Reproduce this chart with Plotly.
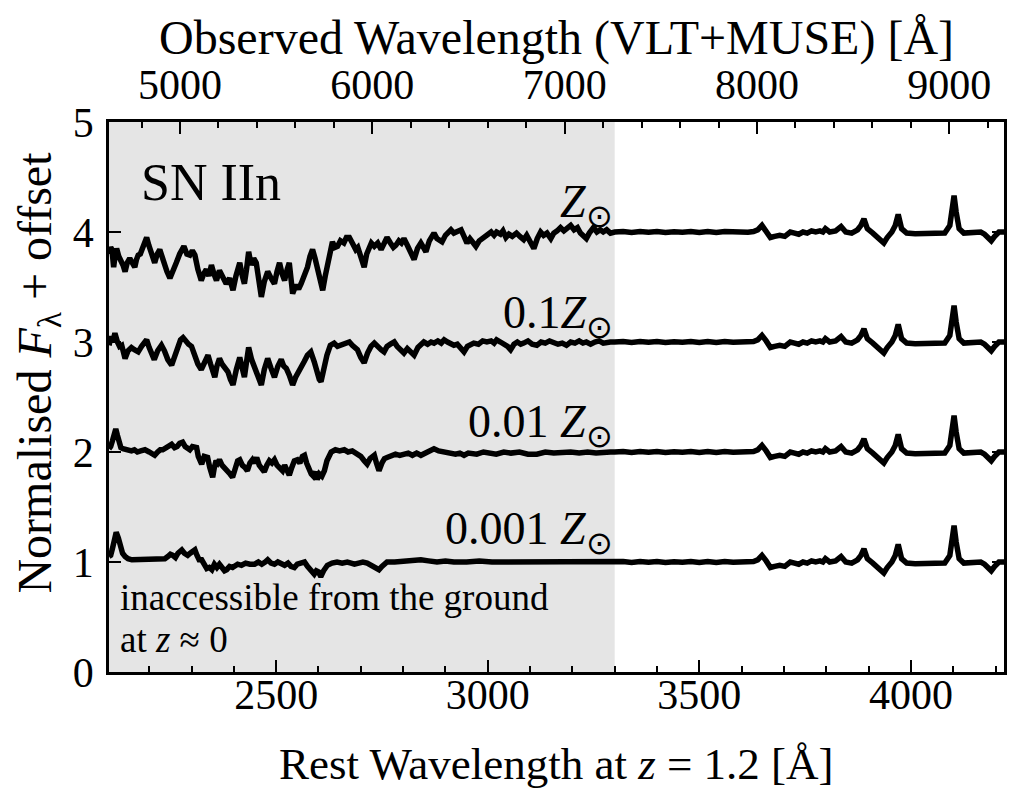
import numpy as np
import plotly.graph_objects as go

# ---------------- data ----------------
labels = ["<i>Z</i><sub>⊙</sub>", "0.1<i>Z</i><sub>⊙</sub>", "0.01 <i>Z</i><sub>⊙</sub>", "0.001 <i>Z</i><sub>⊙</sub>"]
offsets = [3, 2, 1, 0]

# blue part (rest < 3300 A): (rest wavelength, normalised flux) per metallicity
blue_z1 = [
    (2105, 0.80), (2109, 0.86), (2112, 0.84), (2116, 0.68), (2120, 0.80), (2123, 0.85), (2128, 0.78), (2133, 0.75),
    (2138, 0.70), (2143, 0.64), (2148, 0.72), (2154, 0.76), (2160, 0.72), (2166, 0.68), (2170, 0.75), (2174, 0.79),
    (2179, 0.80), (2184, 0.86), (2189, 0.90), (2194, 0.95), (2199, 0.88), (2204, 0.82), (2208, 0.76), (2213, 0.72),
    (2219, 0.80), (2225, 0.84), (2230, 0.78), (2236, 0.70), (2242, 0.64), (2249, 0.58), (2256, 0.66), (2264, 0.72),
    (2272, 0.80), (2282, 0.87), (2289, 0.80), (2296, 0.79), (2302, 0.83), (2308, 0.79), (2315, 0.66), (2323, 0.56),
    (2329, 0.62), (2335, 0.66), (2341, 0.60), (2347, 0.70), (2353, 0.62), (2359, 0.56), (2366, 0.65), (2374, 0.58),
    (2382, 0.53), (2390, 0.58), (2398, 0.47), (2405, 0.60), (2414, 0.72), (2420, 0.60), (2425, 0.53), (2430, 0.66),
    (2435, 0.82), (2441, 0.70), (2447, 0.76), (2453, 0.72), (2459, 0.55), (2465, 0.41), (2472, 0.55), (2480, 0.64),
    (2488, 0.58), (2496, 0.53), (2502, 0.64), (2508, 0.72), (2514, 0.62), (2520, 0.56), (2526, 0.66), (2531, 0.72),
    (2535, 0.58), (2539, 0.44), (2547, 0.52), (2553, 0.48), (2559, 0.53), (2566, 0.60), (2574, 0.68), (2580, 0.78),
    (2586, 0.84), (2592, 0.76), (2598, 0.66), (2604, 0.55), (2610, 0.47), (2616, 0.60), (2622, 0.72), (2628, 0.85),
    (2633, 0.91), (2639, 0.86), (2645, 0.87), (2652, 0.92), (2660, 0.90), (2666, 0.95), (2673, 0.95), (2680, 0.90),
    (2688, 0.84), (2693, 0.86), (2698, 0.80), (2703, 0.74), (2708, 0.68), (2714, 0.80), (2719, 0.86), (2725, 0.90),
    (2732, 0.87), (2740, 0.90), (2748, 0.84), (2755, 0.90), (2762, 0.95), (2770, 0.90), (2777, 0.86), (2783, 0.88),
    (2790, 0.92), (2796, 0.90), (2802, 0.94), (2810, 0.88), (2818, 0.82), (2826, 0.75), (2834, 0.85), (2842, 0.90),
    (2848, 0.86), (2854, 0.82), (2862, 0.92), (2868, 0.95), (2873, 0.99), (2880, 0.94), (2886, 0.92), (2892, 0.91),
    (2900, 0.97), (2906, 0.99), (2913, 1.02), (2920, 0.99), (2928, 1.01), (2937, 1.02), (2944, 0.96), (2951, 0.90),
    (2958, 0.94), (2965, 0.90), (2972, 0.87), (2980, 0.92), (2990, 0.95), (2998, 0.97), (3008, 1.00), (3015, 0.97),
    (3021, 1.00), (3030, 0.98), (3036, 1.01), (3043, 0.95), (3050, 0.98), (3058, 0.96), (3068, 0.99), (3076, 0.96),
    (3085, 0.93), (3092, 0.97), (3100, 0.92), (3109, 0.85), (3117, 0.94), (3125, 1.00), (3132, 0.97), (3140, 0.99),
    (3149, 0.94), (3156, 0.99), (3164, 1.01), (3172, 1.04), (3180, 1.01), (3188, 1.04), (3196, 1.06), (3204, 1.02),
    (3212, 1.04), (3219, 0.99), (3226, 0.97), (3233, 0.94), (3240, 0.99), (3250, 1.04), (3258, 1.00), (3266, 1.02),
    (3273, 1.00), (3281, 1.02), (3290, 0.99),
]

blue_z01 = [
    (2105, 0.97), (2110, 1.05), (2114, 1.00), (2119, 1.08), (2125, 1.00), (2130, 0.96), (2135, 0.97), (2139, 0.90),
    (2143, 0.85), (2150, 0.92), (2158, 0.95), (2165, 0.93), (2174, 0.91), (2182, 0.96), (2188, 1.00), (2194, 1.02),
    (2200, 0.95), (2206, 0.88), (2212, 0.84), (2220, 0.92), (2229, 0.97), (2236, 0.92), (2244, 0.84), (2253, 0.79),
    (2260, 0.88), (2268, 0.98), (2274, 1.02), (2280, 1.04), (2287, 1.00), (2293, 0.98), (2300, 0.96), (2307, 0.88),
    (2315, 0.80), (2323, 0.75), (2330, 0.82), (2339, 0.88), (2345, 0.80), (2350, 0.72), (2355, 0.68), (2360, 0.78),
    (2366, 0.85), (2372, 0.80), (2379, 0.76), (2386, 0.73), (2392, 0.66), (2398, 0.61), (2406, 0.75), (2414, 0.86),
    (2420, 0.76), (2425, 0.68), (2430, 0.82), (2435, 0.95), (2442, 0.84), (2449, 0.76), (2456, 0.70), (2460, 0.66),
    (2465, 0.61), (2472, 0.75), (2480, 0.85), (2488, 0.76), (2496, 0.68), (2504, 0.78), (2512, 0.84), (2518, 0.78),
    (2524, 0.76), (2531, 0.70), (2535, 0.64), (2539, 0.61), (2546, 0.68), (2552, 0.72), (2559, 0.75), (2566, 0.82),
    (2574, 0.88), (2582, 0.91), (2590, 0.82), (2597, 0.72), (2602, 0.66), (2606, 0.64), (2612, 0.75), (2620, 0.88),
    (2628, 0.97), (2637, 0.99), (2645, 0.96), (2653, 0.97), (2662, 0.99), (2673, 1.00), (2680, 0.97), (2686, 0.95),
    (2692, 0.93), (2700, 0.86), (2708, 0.81), (2716, 0.90), (2724, 0.96), (2732, 0.99), (2740, 0.95), (2748, 0.93),
    (2755, 0.91), (2762, 0.96), (2770, 0.98), (2779, 1.00), (2786, 0.96), (2794, 0.93), (2802, 0.90), (2810, 0.94),
    (2818, 0.91), (2826, 0.88), (2835, 0.95), (2842, 0.98), (2849, 1.00), (2858, 0.98), (2866, 1.00), (2873, 0.99),
    (2882, 1.01), (2890, 0.99), (2897, 1.02), (2905, 1.00), (2912, 0.99), (2920, 0.97), (2928, 0.98), (2936, 0.95),
    (2944, 0.91), (2952, 0.96), (2960, 0.98), (2967, 0.99), (2978, 0.98), (2988, 1.01), (2998, 1.00), (3008, 1.01),
    (3015, 0.99), (3021, 1.02), (3030, 1.00), (3040, 0.98), (3047, 0.96), (3054, 0.93), (3062, 0.98), (3070, 1.00),
    (3078, 0.98), (3085, 0.99), (3095, 1.01), (3105, 0.98), (3116, 0.97), (3126, 1.00), (3136, 0.99), (3146, 1.01),
    (3156, 1.00), (3166, 0.98), (3176, 0.99), (3186, 0.97), (3196, 1.00), (3206, 0.99), (3216, 1.01), (3225, 0.99),
    (3233, 1.00), (3243, 0.98), (3253, 1.00), (3263, 1.01), (3273, 0.99), (3282, 1.00), (3290, 1.00),
]

blue_z001 = [
    (2105, 1.03), (2109, 1.05), (2113, 1.10), (2117, 1.18), (2121, 1.21), (2125, 1.15), (2129, 1.08), (2133, 1.04),
    (2138, 1.03), (2144, 1.02), (2150, 1.02), (2158, 1.01), (2165, 1.02), (2172, 1.00), (2180, 1.01), (2190, 1.02),
    (2200, 1.00), (2207, 0.98), (2213, 0.97), (2220, 1.00), (2226, 1.02), (2232, 1.02), (2240, 1.04), (2246, 1.06),
    (2253, 1.07), (2260, 1.04), (2266, 1.05), (2272, 1.08), (2279, 1.09), (2285, 1.05), (2290, 1.03), (2296, 1.02),
    (2302, 1.05), (2307, 1.04), (2312, 1.04), (2316, 0.96), (2320, 0.92), (2324, 0.89), (2330, 0.96), (2334, 0.95),
    (2338, 0.95), (2343, 0.86), (2347, 0.80), (2350, 0.77), (2354, 0.86), (2358, 0.92), (2362, 0.90), (2366, 0.93),
    (2372, 0.88), (2378, 0.86), (2385, 0.83), (2391, 0.80), (2397, 0.77), (2403, 0.86), (2409, 0.92), (2414, 0.93),
    (2420, 0.88), (2426, 0.86), (2432, 0.83), (2438, 0.90), (2444, 0.93), (2449, 0.90), (2454, 0.95), (2460, 0.88),
    (2466, 0.84), (2472, 0.82), (2478, 0.88), (2484, 0.92), (2490, 0.90), (2496, 0.93), (2502, 0.88), (2508, 0.86),
    (2515, 0.83), (2520, 0.88), (2526, 0.84), (2531, 0.79), (2537, 0.86), (2543, 0.92), (2550, 0.93), (2556, 0.90),
    (2562, 0.96), (2567, 0.97), (2572, 0.90), (2578, 0.84), (2583, 0.80), (2588, 0.78), (2593, 0.82), (2597, 0.75),
    (2602, 0.80), (2608, 0.78), (2614, 0.83), (2620, 0.92), (2625, 0.98), (2630, 1.00), (2640, 1.02), (2650, 1.01),
    (2661, 1.02), (2670, 1.00), (2680, 1.01), (2692, 0.98), (2700, 0.96), (2708, 0.92), (2715, 0.89), (2722, 0.94),
    (2728, 0.97), (2732, 0.97), (2737, 0.90), (2743, 0.83), (2750, 0.90), (2756, 0.94), (2762, 0.95), (2772, 0.96),
    (2782, 0.98), (2792, 0.97), (2802, 0.98), (2812, 0.99), (2822, 0.97), (2832, 0.99), (2842, 0.97), (2852, 0.99),
    (2862, 1.01), (2873, 1.03), (2884, 1.01), (2894, 1.00), (2904, 1.00), (2914, 0.99), (2924, 0.98), (2934, 0.99),
    (2944, 0.97), (2954, 0.99), (2964, 0.98), (2974, 0.98), (2990, 1.00), (3005, 0.99), (3020, 0.98), (3038, 1.00),
    (3055, 0.99), (3075, 1.00), (3095, 0.98), (3116, 0.98), (3136, 1.00), (3156, 0.99), (3176, 1.00), (3196, 1.00),
    (3216, 0.99), (3236, 1.00), (3256, 0.99), (3273, 1.00), (3290, 1.00),
]

blue_z0001 = [
    (2105, 1.05), (2109, 1.06), (2113, 1.12), (2118, 1.22), (2122, 1.27), (2127, 1.22), (2132, 1.14), (2137, 1.08),
    (2143, 1.05), (2150, 1.03), (2159, 1.02), (2170, 1.02), (2180, 1.02), (2190, 1.02), (2200, 1.02), (2210, 1.02),
    (2220, 1.02), (2230, 1.03), (2237, 1.03), (2244, 1.05), (2250, 1.07), (2256, 1.06), (2262, 1.04), (2268, 1.08),
    (2273, 1.10), (2277, 1.11), (2283, 1.08), (2291, 1.06), (2297, 1.08), (2303, 1.10), (2308, 1.11), (2313, 1.06),
    (2318, 1.02), (2324, 1.02), (2330, 0.97), (2336, 0.94), (2342, 0.95), (2348, 0.93), (2354, 0.98), (2360, 0.95),
    (2366, 0.98), (2372, 0.94), (2378, 0.92), (2383, 0.93), (2390, 0.96), (2397, 0.95), (2403, 0.97), (2409, 0.98),
    (2418, 0.97), (2428, 0.99), (2438, 0.98), (2449, 0.98), (2458, 1.00), (2466, 0.98), (2474, 1.00), (2480, 1.02),
    (2488, 0.99), (2496, 0.98), (2504, 1.00), (2513, 0.98), (2520, 0.97), (2528, 0.99), (2535, 0.96), (2543, 0.95),
    (2550, 0.98), (2558, 0.99), (2567, 1.00), (2574, 0.96), (2580, 0.93), (2586, 0.90), (2590, 0.89), (2595, 0.92),
    (2600, 0.91), (2604, 0.88), (2607, 0.88), (2612, 0.92), (2616, 0.94), (2621, 0.97), (2632, 0.99), (2644, 1.00),
    (2656, 0.99), (2668, 1.00), (2677, 0.99), (2685, 0.98), (2695, 0.99), (2705, 1.00), (2715, 0.99), (2725, 0.97),
    (2732, 0.96), (2737, 0.94), (2743, 0.93), (2750, 0.96), (2756, 0.99), (2762, 1.00), (2780, 1.00), (2800, 1.01),
    (2820, 1.01), (2842, 1.02), (2860, 1.01), (2880, 1.00), (2900, 1.01), (2920, 1.00), (2950, 1.00), (2980, 1.01),
    (3010, 1.00), (3038, 1.00), (3070, 1.00), (3100, 1.01), (3130, 1.00), (3160, 1.00), (3196, 1.00), (3230, 1.00),
    (3260, 1.00), (3290, 1.00),
]

# red part (rest >= 3300 A), common to all metallicities
red_part = [
    (3300, 1.000), (3320, 1.005), (3340, 0.995), (3360, 1.005), (3380, 0.998), (3400, 1.004), (3420, 0.996),
    (3440, 1.003), (3460, 0.997), (3480, 1.005), (3500, 0.995), (3520, 1.004), (3540, 0.996), (3560, 1.004),
    (3580, 0.998), (3600, 1.003), (3615, 0.998), (3628, 1.005), (3638, 1.02), (3648, 1.06), (3658, 1.01),
    (3668, 0.95), (3678, 0.96), (3690, 0.97), (3702, 0.96), (3715, 1.00), (3725, 0.99), (3735, 0.98), (3745, 1.00),
    (3755, 0.99), (3765, 1.01), (3775, 1.00), (3785, 1.01), (3792, 1.00), (3798, 1.03), (3808, 1.00), (3822, 1.01),
    (3835, 1.05), (3846, 1.00), (3860, 0.99), (3874, 1.02), (3882, 1.06), (3889, 1.12), (3897, 1.03), (3910, 0.99),
    (3922, 0.95), (3930, 0.91), (3936, 0.90), (3944, 0.95), (3955, 1.00), (3963, 1.06), (3970, 1.16), (3978, 1.03),
    (3990, 0.99), (4010, 0.985), (4035, 0.99), (4060, 0.985), (4080, 0.99), (4092, 1.06), (4098, 1.20),
    (4102, 1.33), (4107, 1.18), (4114, 1.03), (4125, 0.99), (4145, 1.00), (4165, 1.00), (4174, 0.98),
    (4182, 0.94), (4190, 0.92), (4198, 0.96), (4208, 1.00), (4220, 1.00),
]

blue_parts = [blue_z1, blue_z01, blue_z001, blue_z0001]

redshift = 1.2
x_range = [2105, 4220]
ground_limit = 3300
x_ticks = [2500, 3000, 3500, 4000]
top_ticks = [5000, 6000, 7000, 8000, 9000]
y_ticks = [0, 1, 2, 3, 4, 5]

FONT = "Liberation Serif"

fig = go.Figure()

red_w = [w for w, _ in red_part]
red_f = [f for _, f in red_part]
for blue, off in zip(blue_parts, offsets):
    wave = np.array([w for w, _ in blue] + red_w, dtype=float)
    flux = np.array([f for _, f in blue] + red_f, dtype=float) + off
    fig.add_trace(go.Scatter(x=wave, y=flux, mode="lines",
                             line=dict(color="black", width=5.5),
                             showlegend=False, hoverinfo="skip"))

# invisible trace to activate the top (observed) axis
fig.add_trace(go.Scatter(x=[x_range[0] * (1 + redshift), x_range[1] * (1 + redshift)], y=[-10, -10],
                         xaxis="x2", yaxis="y", mode="lines", line=dict(width=0),
                         showlegend=False, hoverinfo="skip"))

fig.add_shape(type="rect", xref="x", yref="y", x0=x_range[0], x1=ground_limit, y0=0, y1=5,
              fillcolor="#e5e5e5", line=dict(width=0), layer="below")

axis_common = dict(showgrid=False, zeroline=False, linecolor="black", linewidth=2.5,
                   tickcolor="black", tickwidth=2, ticks="inside",
                   tickfont=dict(family=FONT, size=42, color="black"))

fig.update_layout(
    width=1011, height=793,
    margin=dict(l=109, r=4, t=122, b=121),
    paper_bgcolor="white", plot_bgcolor="white",
    xaxis=dict(range=x_range, tickvals=x_ticks, ticklen=12, showline=True, mirror=True,
               minor=dict(dtick=100, ticklen=6, tickwidth=1.5, ticks="inside", tickcolor="black"),
               ticklabelstandoff=-16, **axis_common),
    xaxis2=dict(range=[x_range[0] * (1 + redshift), x_range[1] * (1 + redshift)], overlaying="x",
                side="top", tickvals=top_ticks, ticklen=12, showline=False,
                minor=dict(dtick=200, ticklen=6, tickwidth=1.5, ticks="inside", tickcolor="black"),
                ticklabelstandoff=14, **axis_common),
    yaxis=dict(range=[0, 5], tickvals=y_ticks, ticklen=12, showline=True, mirror="ticks",
               ticklabelstandoff=4, **axis_common),
)

ann_font = dict(family=FONT, color="black")
fig.add_annotation(x=0.5, y=1.153, xref="paper", yref="paper", text="Observed Wavelength (VLT+MUSE) [Å]",
                   showarrow=False, font=dict(size=48, **ann_font), xanchor="center", yanchor="middle")
fig.add_annotation(x=0.5, y=-0.168, xref="paper", yref="paper", text="Rest Wavelength at <i>z</i> = 1.2 [Å]",
                   showarrow=False, font=dict(size=45, **ann_font), xanchor="center", yanchor="middle")
fig.add_annotation(x=-0.079, y=0.545, xref="paper", yref="paper",
                   text="Normalised <i>F</i><sub>λ</sub> + offset", textangle=-90,
                   showarrow=False, font=dict(size=48, **ann_font), xanchor="center", yanchor="middle")

fig.add_annotation(x=2175, y=4.45, xref="x", yref="y", text="SN IIn", showarrow=False,
                   font=dict(size=52, **ann_font), xanchor="left", yanchor="middle")

label_y = [4.25, 3.24, 2.25, 1.27]
for lab, ly in zip(labels, label_y):
    fig.add_annotation(x=ground_limit, y=ly, xref="x", yref="y", text=lab, showarrow=False,
                       font=dict(size=46, **ann_font), xanchor="right", yanchor="middle")

fig.add_annotation(x=2126, y=0.68, xref="x", yref="y", text="inaccessible from the ground", showarrow=False,
                   font=dict(size=37, **ann_font), xanchor="left", yanchor="middle")
fig.add_annotation(x=2126, y=0.30, xref="x", yref="y", text="at <i>z</i> ≈ 0", showarrow=False,
                   font=dict(size=37, **ann_font), xanchor="left", yanchor="middle")

fig.write_html("out.html")
